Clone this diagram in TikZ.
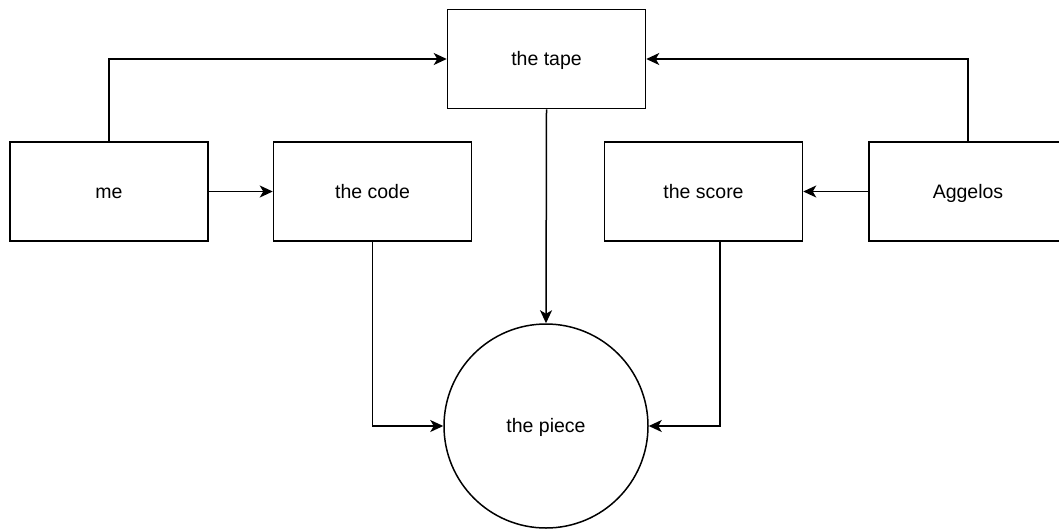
\documentclass[tikz,border=0pt]{standalone}
\usepackage{fontspec}
\setmainfont{Liberation Sans}
\usetikzlibrary{arrows.meta}
\begin{document}
\begin{tikzpicture}[x=1pt,y=-1pt,
  labeltext/.style={font=\fontsize{19.5}{23}\selectfont, text height=13.4pt, text depth=0pt},
  box/.style={draw=black, line width=1.5pt, fill=white, minimum width=198pt, minimum height=99pt,
    inner sep=0pt, labeltext},
  roundnode/.style={draw=black, line width=1.5pt, fill=white, circle, minimum size=204pt,
    inner sep=0pt, labeltext},
  link/.style={draw=black, line width=1.5pt, -{Stealth[length=13pt,width=12pt,inset=3.5pt]}}
]
\useasboundingbox (0,0) rectangle (1059,528);
\clip (0,0) rectangle (1059,528);

% boxes
\node[box] (me) at (109,191.5) {me};
\node[box] (code) at (372.5,191.5) {the code};
\node[box] (tape) at (546.5,59) {the tape};
\node[box] (score) at (703.5,191.5) {the score};
\node[box] (aggelos) at (968,191.5) {Aggelos};
\node[roundnode] (piece) at (546,426) {the piece};

% connectors
\draw[link] (me.north) |- (tape.west);
\draw[link] (aggelos.north) |- (tape.east);
\draw[link] (me.east) -- (code.west);
\draw[link] (aggelos.west) -- (score.east);
\draw[link] (tape.south) -- (piece.north);
\draw[link] (code.south) |- (piece.west);
\draw[link] ([xshift=16.5pt]score.south) |- (piece.east);
\end{tikzpicture}
\end{document}
